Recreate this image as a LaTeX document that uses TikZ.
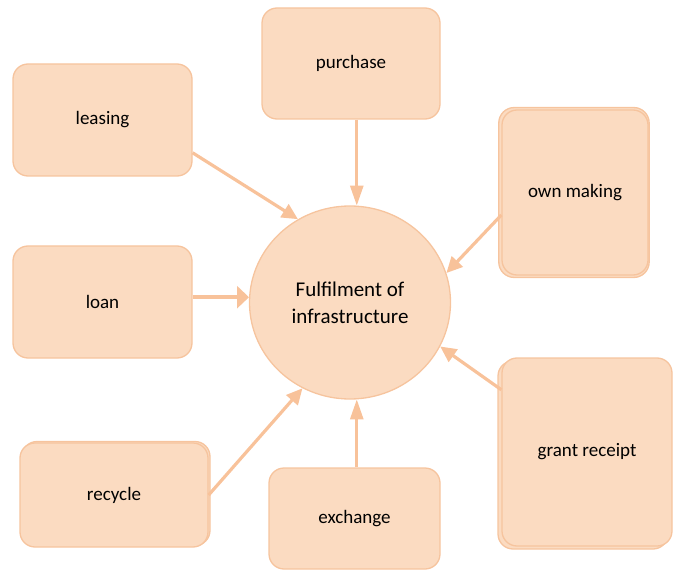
\documentclass[tikz,border=0pt]{standalone}
\usepackage{fontspec}
\setmainfont{Carlito}
\usepackage{xcolor}
\usetikzlibrary{arrows.meta,shadows,shapes.geometric}

\definecolor{peach}{HTML}{FBDBC1}
\definecolor{peachline}{HTML}{F6C49E}
\definecolor{peacharrow}{HTML}{F8C29A}

\begin{document}
\begin{tikzpicture}[
  x=1pt,y=-1pt,
  src/.style={draw=peachline,fill=peach,line width=1.3pt,rounded corners=15pt,
    inner sep=0pt,align=center,font=\fontsize{19}{23}\selectfont},
  layered/.style={copy shadow={#1}},
  hubnode/.style={ellipse,draw=peachline,fill=peach,line width=1.3pt,
    minimum width=201pt,minimum height=193pt,
    inner sep=0pt,align=center,font=\fontsize{21}{27}\selectfont},
  arr/.style={-{Triangle[length=16pt,width=15pt]},draw=peacharrow,line width=3.2pt},
  varr/.style={arr,-{Triangle[length=20pt,width=13pt]},line width=2.8pt},
  harr/.style={arr,-{Triangle[length=12pt,width=22pt]},line width=4.5pt}
]
\useasboundingbox (0,0) rectangle (680,572);

\node[hubnode] (hub) at (350,302.5) {Fulfilment of\\infrastructure};

\node[src,minimum width=179pt,minimum height=112pt] (leasing) at (102.5,120) {leasing};
\node[src,minimum width=178pt,minimum height=111pt] (purchase) at (351,63.5) {purchase};
\node[src,layered={shadow scale=1.03,shadow xshift=-1pt,shadow yshift=0pt},
  minimum width=146pt,minimum height=165pt] (making) at (575,192.5) {own making};
\node[src,minimum width=179pt,minimum height=112pt] (loan) at (102.5,302) {loan};
\node[src,layered={shadow xshift=2pt,shadow yshift=1.5pt},
  minimum width=188pt,minimum height=104pt] (recycle) at (114,495) {recycle};
\node[src,minimum width=171pt,minimum height=101pt] (exchange) at (354.5,518.5) {exchange};
\node[src,layered={shadow xshift=-4pt,shadow yshift=-3pt},
  minimum width=170pt,minimum height=188pt] (grant) at (587,452) {grant receipt};

% every source points into the hub
\draw[arr] (leasing.-20) -- (hub.122);
\draw[varr] (hub.86 |- purchase.south) -- (hub.86);
\draw[arr] (making.-163) -- (hub.17);
\draw[harr] (loan.east |- hub.177) -- (hub.177);
\draw[arr] (recycle.east) -- (hub.-119);
\draw[varr] (hub.-86 |- exchange.north) -- (hub.-86);
\draw[arr] (grant.144) -- (hub.-26);
\end{tikzpicture}
\end{document}
